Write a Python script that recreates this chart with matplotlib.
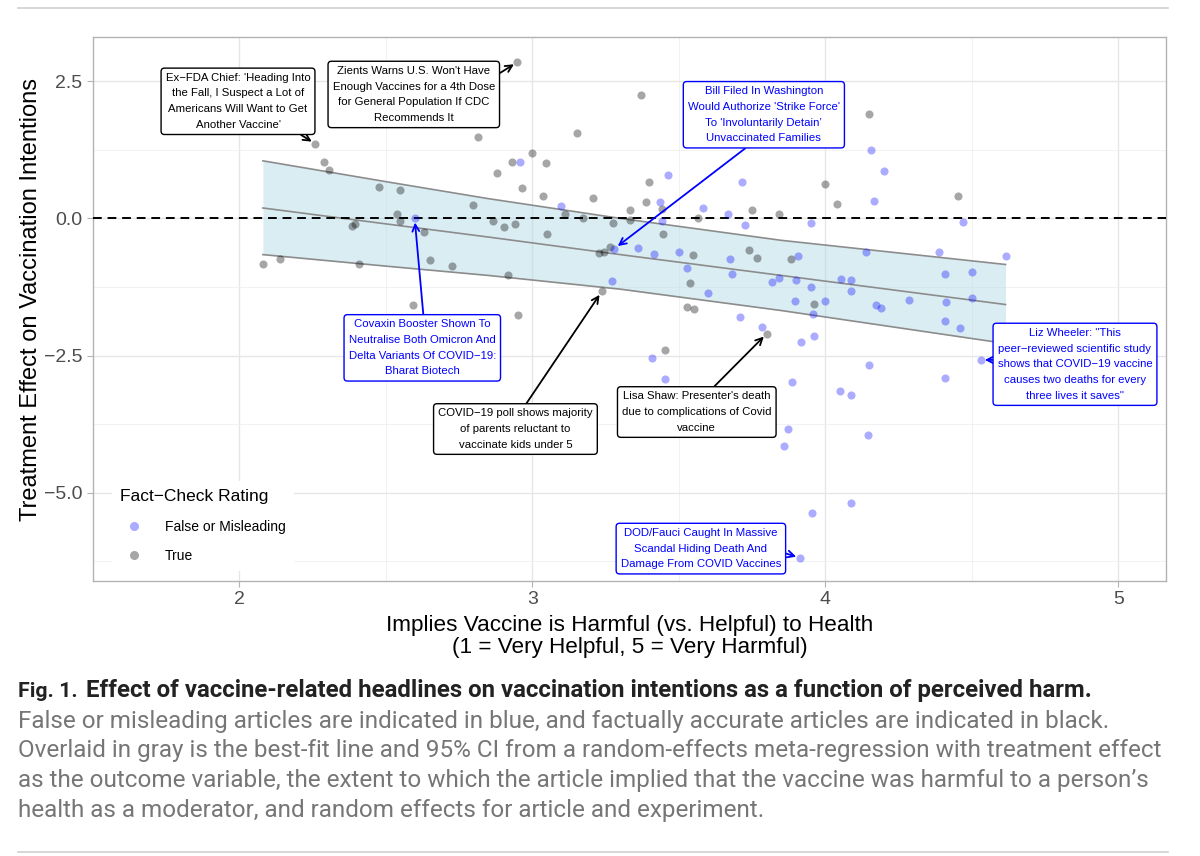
import matplotlib
matplotlib.use('Agg')
import matplotlib.pyplot as plt
from matplotlib.lines import Line2D

plt.rcParams['font.family'] = ['Liberation Sans', 'DejaVu Sans']

# headlines rated true (grey)
true_x = [2.259, 2.949, 2.813, 2.288, 2.305, 2.878, 2.476, 2.548, 2.797, 2.536,
          2.548, 2.629, 2.383, 2.395, 2.867, 2.904, 2.940, 2.079, 2.140, 2.407,
          2.652, 2.724, 2.591, 2.918, 2.998, 2.929, 2.963, 3.036, 3.369, 3.151,
          3.046, 3.207, 3.399, 3.110, 3.332, 3.333, 3.386, 3.443, 3.564, 3.749,
          3.841, 3.051, 3.174, 3.276, 3.228, 3.245, 3.264, 3.444, 3.549, 3.538,
          3.528, 3.550, 3.237, 2.951, 3.739, 3.768, 4.148, 4.000, 4.040, 4.451,
          3.882, 3.960, 3.800, 3.452]
true_y = [1.36, 2.85, 1.48, 1.02, 0.89, 0.82, 0.57, 0.52, 0.24, 0.085,
          -0.05, -0.24, -0.13, -0.11, -0.04, -0.15, -0.10, -0.84, -0.74, -0.83,
          -0.75, -0.86, -1.58, -1.04, 1.20, 1.02, 0.55, 0.41, 2.25, 1.56,
          1.01, 0.38, 0.67, 0.085, 0.16, -0.02, 0.30, 0.18, 0.0, 0.15,
          0.085, -0.28, 0.0, -0.08, -0.63, -0.615, -0.52, -0.28, -0.66, -1.17,
          -1.62, -1.65, -1.33, -1.77, -0.57, -0.73, 1.91, 0.63, 0.26, 0.41,
          -0.74, -1.56, -2.10, -2.40]

# headlines rated false or misleading (blue)
false_x = [2.598, 2.957, 3.099, 3.464, 3.434, 3.443, 3.582, 3.666, 3.714, 3.727,
           3.280, 3.362, 3.416, 3.499, 3.529, 3.600, 3.271, 3.676, 3.682, 3.818,
           3.841, 3.708, 4.154, 4.200, 4.167, 4.470, 3.908, 4.138, 4.389, 4.616,
           4.409, 4.500, 3.900, 3.950, 4.053, 4.087, 4.087, 3.895, 4.000, 3.957,
           4.173, 4.190, 4.286, 4.411, 4.500, 4.409, 4.459, 3.961, 4.530, 4.150,
           4.408, 4.050, 4.087, 4.144, 3.785, 3.916, 3.408, 3.452, 3.885, 3.872,
           3.858, 4.088, 3.956, 3.914, 3.950]
false_y = [0.0, 1.02, 0.22, 0.785, 0.30, -0.04, 0.19, 0.08, 0.66, -0.12,
           -0.55, -0.54, -0.65, -0.61, -0.90, -1.36, -1.14, -0.74, -1.01, -1.16,
           -1.09, -1.80, 1.25, 0.86, 0.32, -0.07, -0.69, -0.62, -0.61, -0.69,
           -1.02, -0.97, -1.13, -1.25, -1.11, -1.13, -1.33, -1.50, -1.51, -1.74,
           -1.57, -1.64, -1.49, -1.53, -1.45, -1.87, -1.99, -2.15, -2.58, -2.68,
           -2.91, -3.14, -3.22, -3.95, -1.98, -2.26, -2.54, -2.92, -2.98, -3.84,
           -4.15, -5.19, -5.37, -6.19, -0.09]

# meta-regression fit and 95% CI
fit_x = [2.08, 2.50, 2.85, 3.30, 3.85, 4.615]
fit_mid = [0.19, -0.10, -0.34, -0.66, -1.04, -1.57]
fit_lo = [-0.66, -0.87, -1.04, -1.29, -1.68, -2.28]
fit_hi = [1.05, 0.67, 0.36, 0.00, -0.40, -0.84]

# labelled headlines
ann_text = [
    "Ex\u2212FDA Chief: 'Heading Into\nthe Fall, I Suspect a Lot of\nAmericans Will Want to Get\nAnother Vaccine'",
    "Zients Warns U.S. Won't Have\nEnough Vaccines for a 4th Dose\nfor General Population If CDC\nRecommends It",
    "Bill Filed In Washington\nWould Authorize 'Strike Force'\nTo 'Involuntarily Detain\u2019\nUnvaccinated Families",
    "Covaxin Booster Shown To\nNeutralise Both Omicron And\nDelta Variants Of COVID\u221219:\nBharat Biotech",
    "COVID\u221219 poll shows majority\nof parents reluctant to\nvaccinate kids under 5",
    "Lisa Shaw: Presenter's death\ndue to complications of Covid\nvaccine",
    "Liz Wheeler: \"This\npeer\u2212reviewed scientific study\nshows that COVID\u221219 vaccine\ncauses two deaths for every\nthree lives it saves\"",
    "DOD/Fauci Caught In Massive\nScandal Hiding Death And\nDamage From COVID Vaccines",
]
ann_x = [2.259, 2.949, 3.280, 2.598, 3.237, 3.800, 4.530, 3.914]
ann_y = [1.36, 2.85, -0.55, 0.0, -1.33, -2.10, -2.58, -6.19]
ann_false = [False, False, True, True, False, False, True, True]

# label box centres and arrow start on the box
box_pos = [(1.995, 2.135), (2.595, 2.26), (3.790, 1.89), (2.624, -2.36),
           (2.942, -3.84), (3.561, -3.53), (4.852, -2.66), (3.575, -6.02)]
rel_pos = [(0.88, 0), (1, 0.82), (0.42, 0), (0.51, 1),
           (0.55, 1), (0.585, 1), (0, 0.56), (1, 0.42)]

fig = plt.figure(figsize=(12, 8.56), dpi=100)
ax = fig.add_axes([0.0775, 0.3213, 0.894, 0.635])

ax.set_xlim(1.538, 5.162)
ax.set_ylim(-6.61, 3.30)
ax.set_xticks([2, 3, 4, 5])
ax.set_xticks([1.5, 2.5, 3.5, 4.5], minor=True)
ax.set_yticks([-5, -2.5, 0, 2.5])
ax.set_yticklabels(['\u22125.0', '\u22122.5', '0.0', '2.5'])
ax.set_yticks([-6.25, -3.75, -1.25, 1.25], minor=True)
ax.grid(which='major', color='#e6e6e6', lw=1.0, zorder=0)
ax.grid(which='minor', color='#f0f0f0', lw=0.6, zorder=0)
ax.set_axisbelow(True)
for s in ax.spines.values():
    s.set_color('#b3b3b3')
    s.set_linewidth(1.0)
ax.tick_params(which='major', colors='#b3b3b3', labelcolor='#4d4d4d',
               labelsize=14, length=4)
ax.tick_params(which='minor', length=0)

ax.fill_between(fit_x, fit_lo, fit_hi, color='#add8e6', alpha=0.45, lw=0, zorder=1)
ax.plot(fit_x, fit_lo, color='#8c8c8c', lw=1.2, zorder=2)
ax.plot(fit_x, fit_hi, color='#8c8c8c', lw=1.2, zorder=2)
ax.plot(fit_x, fit_mid, color='#8c8c8c', lw=1.2, zorder=2)

ax.axhline(0, color='black', lw=1.4, ls=(0, (4.5, 3)), zorder=3)

ax.scatter(true_x, true_y, s=34, color='black', alpha=0.35, lw=0, zorder=4)
ax.scatter(false_x, false_y, s=34, color='blue', alpha=0.33, lw=0, zorder=4)

for i, txt in enumerate(ann_text):
    col = 'blue' if ann_false[i] else 'black'
    ax.annotate(txt, xy=(ann_x[i], ann_y[i]), xytext=box_pos[i],
                ha='center', va='center', fontsize=8.2, color=col,
                linespacing=1.72, zorder=6,
                bbox=dict(boxstyle='round,pad=0.4,rounding_size=0.3',
                          fc='white', ec=col, lw=1.0),
                arrowprops=dict(arrowstyle='->,head_length=0.6,head_width=0.3',
                                color=col, lw=1.3, relpos=rel_pos[i],
                                shrinkA=0, shrinkB=3))

ax.set_ylabel('Treatment Effect on Vaccination Intentions', fontsize=17)
ax.yaxis.set_label_coords(-0.048, 0.517)
ax.set_xlabel('Implies Vaccine is Harmful (vs. Helpful) to Health\n(1 = Very Helpful, 5 = Very Harmful)',
              fontsize=16.2, labelpad=5, linespacing=1.05)

handles = [Line2D([], [], marker='o', ls='', color='blue', alpha=0.33, markersize=6.5, mew=0),
           Line2D([], [], marker='o', ls='', color='black', alpha=0.35, markersize=6.5, mew=0)]
leg = ax.legend(handles, ['False or Misleading', 'True'], title='Fact\u2212Check Rating',
                loc='lower left', bbox_to_anchor=(0.011, 0.005), fontsize=10,
                title_fontsize=12.5, frameon=True, facecolor='white', edgecolor='none',
                framealpha=1, handletextpad=1.2, labelspacing=1.1, borderpad=0.6)
leg._legend_box.align = 'left'
leg.set_zorder(5)

# caption below the chart
cap_font = ['Roboto', 'DejaVu Sans']
fig.text(18 / 1200, 1 - 697 / 856, 'Fig. 1.', fontsize=15.4, fontweight='bold',
         color='#222222', family=cap_font, va='baseline')
fig.text(86 / 1200, 1 - 697 / 856,
         'Effect of vaccine-related headlines on vaccination intentions as a function of perceived harm.',
         fontsize=17.3, fontweight='bold', color='#222222', family=cap_font, va='baseline')
cap_lines = [
    'False or misleading articles are indicated in blue, and factually accurate articles are indicated in black.',
    'Overlaid in gray is the best-fit line and 95% CI from a random-effects meta-regression with treatment effect',
    'as the outcome variable, the extent to which the article implied that the vaccine was harmful to a person\u2019s',
    'health as a moderator, and random effects for article and experiment.',
]
for k, line in enumerate(cap_lines):
    fig.text(18 / 1200, 1 - (728 + 29.5 * k) / 856, line, fontsize=17.5,
             color='#767676', family=cap_font, va='baseline')

for yy in (8, 852):
    fig.add_artist(Line2D([18 / 1200, 1168 / 1200], [1 - yy / 856] * 2,
                          color='#d0d0d0', lw=1.2))

fig.savefig('out.png', dpi=100, facecolor='white')
